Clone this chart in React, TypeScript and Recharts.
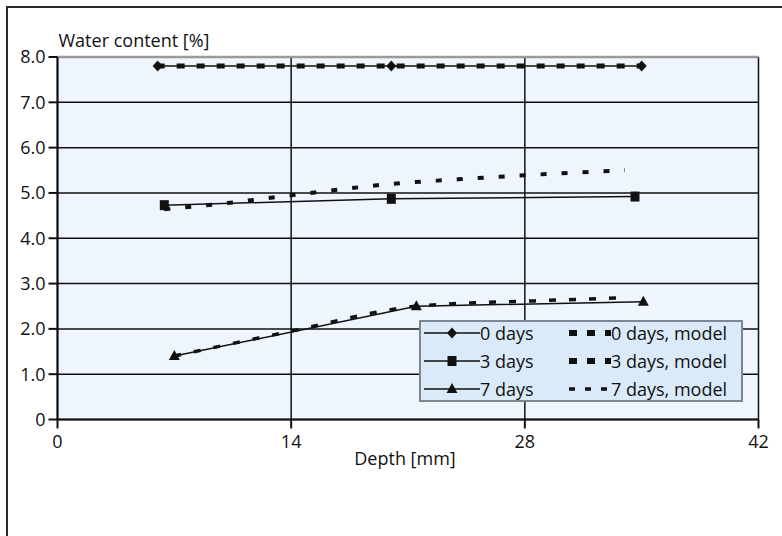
import React from "react";
import {
  LineChart,
  Line,
  XAxis,
  YAxis,
  CartesianGrid,
  Legend,
  ReferenceLine,
} from "recharts";

// ---- data ----
const depth0 = [6, 20, 35];
const water0 = [7.8, 7.8, 7.8];
const depth0Model = [6, 35];
const water0Model = [7.8, 7.8];

const depth3 = [6.4, 20, 34.6];
const water3 = [4.73, 4.87, 4.92];
const depth3Model = [6.4, 10, 14, 17, 20, 24, 28, 31, 34];
const water3Model = [4.64, 4.77, 4.95, 5.08, 5.2, 5.3, 5.39, 5.45, 5.5];

const depth7 = [7, 21.5, 35.1];
const water7 = [1.4, 2.5, 2.6];
const depth7Model = [7, 14, 21.5, 24, 28, 31, 34];
const water7Model = [1.4, 1.95, 2.5, 2.56, 2.61, 2.65, 2.69];

const xTicks = [0, 14, 28, 42];
const yTicks = [0, 1, 2, 3, 4, 5, 6, 7, 8];

const seriesNames = [
  "0 days",
  "3 days",
  "7 days",
  "0 days, model",
  "3 days, model",
  "7 days, model",
];

const zip = (xs: number[], ys: number[]) => xs.map((x, i) => ({ x, y: ys[i] }));

const data0 = zip(depth0, water0);
const data0M = zip(depth0Model, water0Model);
const data3 = zip(depth3, water3);
const data3M = zip(depth3Model, water3Model);
const data7 = zip(depth7, water7);
const data7M = zip(depth7Model, water7Model);

const FONT = "'Open Sans', 'Noto Sans', 'DejaVu Sans', sans-serif";
const INK = "#111";

const Diamond = ({ cx, cy }: any) => (
  <path d={`M${cx} ${cy - 5.5}L${cx + 5} ${cy}L${cx} ${cy + 5.5}L${cx - 5} ${cy}Z`} fill={INK} />
);
const Square = ({ cx, cy }: any) => (
  <rect x={cx - 4.5} y={cy - 5} width={9} height={10} fill={INK} />
);
const Triangle = ({ cx, cy }: any) => (
  <path d={`M${cx} ${cy - 6}L${cx + 5.5} ${cy + 4}L${cx - 5.5} ${cy + 4}Z`} fill={INK} />
);

const markerFor: Record<string, any> = {
  "0 days": Diamond,
  "3 days": Square,
  "7 days": Triangle,
};
const dashFor: Record<string, { w: number; d: string }> = {
  "0 days, model": { w: 6, d: "8 10" },
  "3 days, model": { w: 6, d: "8 10" },
  "7 days, model": { w: 3.5, d: "6 10" },
};

const renderLegend = () => (
  <div
    style={{
      width: 324,
      height: 82,
      background: "#dbeaf9",
      border: "2px solid #7d8791",
      display: "grid",
      gridTemplateRows: "repeat(3, 28px)",
      gridTemplateColumns: "148px 176px",
      gridAutoFlow: "column",
      alignContent: "center",
      fontFamily: FONT,
      fontSize: 18,
      color: INK,
      boxSizing: "border-box",
    }}
  >
    {seriesNames.map((name) => {
      const M = markerFor[name];
      const dash = dashFor[name];
      return (
        <div key={name} style={{ display: "flex", alignItems: "center", whiteSpace: "nowrap" }}>
          {M ? (
            <svg width={56} height={16} style={{ marginLeft: 3 }}>
              <line x1={0} y1={8} x2={56} y2={8} stroke={INK} strokeWidth={1.5} />
              <M cx={28} cy={8} />
            </svg>
          ) : (
            <svg width={42} height={16} style={{ marginLeft: 0 }}>
              <line x1={0} y1={8} x2={42} y2={8} stroke={INK} strokeWidth={dash.w} strokeDasharray={dash.d} />
            </svg>
          )}
          <span style={{ lineHeight: "18px" }}>{name}</span>
        </div>
      );
    })}
  </div>
);

export default function App() {
  return (
    <div
      style={{
        position: "fixed",
        left: 0,
        top: 0,
        width: 782,
        height: 536,
        overflow: "hidden",
        background: "#fff",
      }}
    >
      <div
        style={{
          position: "absolute",
          left: 6,
          top: 6,
          width: 900,
          height: 900,
          border: "2px solid #2a2a2a",
        }}
      />
      <div style={{ position: "absolute", left: 0, top: 0 }}>
        <LineChart
          width={782}
          height={536}
          margin={{ top: 57, right: 23.5, left: 0, bottom: 71.5 }}
          style={{ fontFamily: FONT }}
        >
          <CartesianGrid
            stroke={INK}
            strokeWidth={1.5}
            fill="#eef5fc"
            fillOpacity={1}
            horizontalValues={yTicks}
            verticalValues={xTicks}
          />
          <ReferenceLine y={8} stroke="#9a9a9a" strokeWidth={2.5} />
          <XAxis
            type="number"
            dataKey="x"
            domain={[0, 42]}
            ticks={xTicks}
            interval={0}
            height={45}
            tickSize={9}
            tickMargin={7}
            axisLine={{ stroke: INK, strokeWidth: 2 }}
            tickLine={{ stroke: INK, strokeWidth: 2 }}
            tick={{ fill: INK, fontSize: 18, fontFamily: FONT }}
            allowDataOverflow
            label={{
              content: (p: any) => (
                <text
                  x={p.viewBox.x + p.viewBox.width / 2 - 3}
                  y={p.viewBox.y + 45}
                  textAnchor="middle"
                  fill={INK}
                  fontSize={18}
                  fontFamily={FONT}
                >
                  Depth [mm]
                </text>
              ),
            }}
          />
          <YAxis
            type="number"
            domain={[0, 8]}
            ticks={yTicks}
            interval={0}
            width={57.5}
            tickSize={9}
            tickMargin={3}
            axisLine={{ stroke: INK, strokeWidth: 2 }}
            tickLine={{ stroke: INK, strokeWidth: 2 }}
            tick={{ fill: INK, fontSize: 18, fontFamily: FONT }}
            tickFormatter={(v: number) => (v === 0 ? "0" : v.toFixed(1))}
            label={{
              content: (p: any) => (
                <text
                  x={p.viewBox.x + p.viewBox.width + 1}
                  y={p.viewBox.y - 10}
                  textAnchor="start"
                  fill={INK}
                  fontSize={18}
                  fontFamily={FONT}
                >
                  Water content [%]
                </text>
              ),
            }}
          />
          <Legend
            layout="horizontal"
            verticalAlign="middle"
            align="center"
            content={renderLegend}
            wrapperStyle={{ position: "absolute", left: 419, top: 320, width: 328, height: 86 }}
          />
          <Line
            name="0 days"
            data={data0}
            dataKey="y"
            stroke={INK}
            strokeWidth={1.5}
            dot={(p: any) => <Diamond key={`d0-${p.index}`} cx={p.cx} cy={p.cy} />}
            activeDot={false}
            isAnimationActive={false}
          />
          <Line
            name="3 days"
            data={data3}
            dataKey="y"
            stroke={INK}
            strokeWidth={1.5}
            dot={(p: any) => <Square key={`d3-${p.index}`} cx={p.cx} cy={p.cy} />}
            activeDot={false}
            isAnimationActive={false}
          />
          <Line
            name="7 days"
            data={data7}
            dataKey="y"
            stroke={INK}
            strokeWidth={1.5}
            dot={(p: any) => <Triangle key={`d7-${p.index}`} cx={p.cx} cy={p.cy} />}
            activeDot={false}
            isAnimationActive={false}
          />
          <Line
            name="0 days, model"
            data={data0M}
            dataKey="y"
            stroke={INK}
            strokeWidth={5}
            strokeDasharray="8 12"
            strokeDashoffset={1}
            dot={false}
            activeDot={false}
            isAnimationActive={false}
          />
          <Line
            name="3 days, model"
            data={data3M}
            dataKey="y"
            type="monotone"
            stroke={INK}
            strokeWidth={4}
            strokeDasharray="6 15"
            dot={false}
            activeDot={false}
            isAnimationActive={false}
          />
          <Line
            name="7 days, model"
            data={data7M}
            dataKey="y"
            type="monotone"
            stroke={INK}
            strokeWidth={3.5}
            strokeDasharray="7 13"
            dot={false}
            activeDot={false}
            isAnimationActive={false}
          />
        </LineChart>
      </div>
    </div>
  );
}
